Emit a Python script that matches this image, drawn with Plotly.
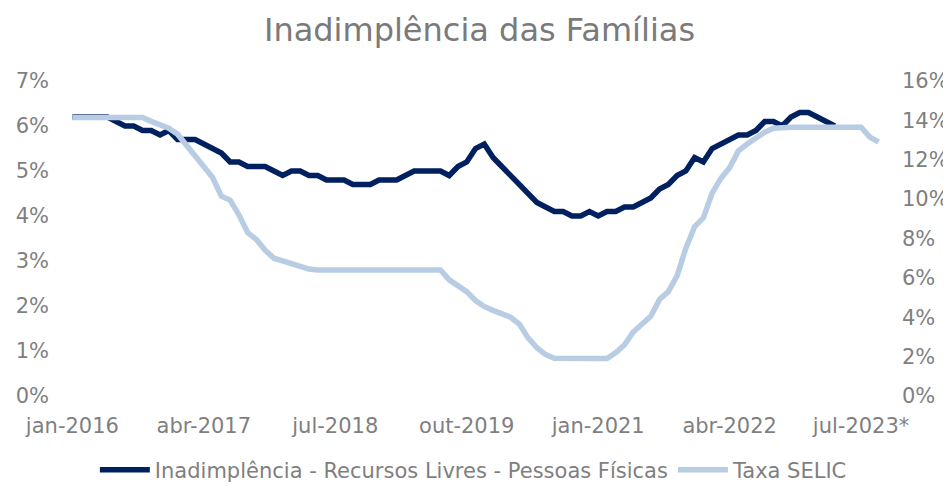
import plotly.graph_objects as go

MESES = ["jan", "fev", "mar", "abr", "mai", "jun", "jul", "ago", "set", "out", "nov", "dez"]
months = [f"{MESES[i % 12]}-{2016 + i // 12}" for i in range(93)]  # jan-2016 .. set-2023

tick_labels = ["jan-2016", "abr-2017", "jul-2018", "out-2019", "jan-2021", "abr-2022", "jul-2023"]
tick_text = ["jan-2016", "abr-2017", "jul-2018", "out-2019", "jan-2021", "abr-2022", "jul-2023*"]

inadimplencia = [
    6.2, 6.2, 6.2, 6.2, 6.2, 6.1, 6.0, 6.0, 5.9, 5.9, 5.8, 5.9,
    5.7, 5.7, 5.7, 5.6, 5.5, 5.4, 5.2, 5.2, 5.1, 5.1, 5.1, 5.0,
    4.9, 5.0, 5.0, 4.9, 4.9, 4.8, 4.8, 4.8, 4.7, 4.7, 4.7, 4.8,
    4.8, 4.8, 4.9, 5.0, 5.0, 5.0, 5.0, 4.9, 5.1, 5.2, 5.5, 5.6,
    5.3, 5.1, 4.9, 4.7, 4.5, 4.3, 4.2, 4.1, 4.1, 4.0, 4.0, 4.1,
    4.0, 4.1, 4.1, 4.2, 4.2, 4.3, 4.4, 4.6, 4.7, 4.9, 5.0, 5.3,
    5.2, 5.5, 5.6, 5.7, 5.8, 5.8, 5.9, 6.1, 6.1, 6.0, 6.2, 6.3,
    6.3, 6.2, 6.1, 6.0,
]

selic = [
    14.15, 14.15, 14.15, 14.15, 14.15, 14.15, 14.15, 14.15, 14.15, 13.95, 13.8, 13.6,
    13.3, 12.75, 12.15, 11.55, 11.1, 10.15, 9.95, 9.2, 8.3, 7.95, 7.4, 7.0,
    6.85, 6.7, 6.55, 6.45, 6.4, 6.4, 6.4, 6.4, 6.4, 6.4, 6.4, 6.4,
    6.4, 6.4, 6.4, 6.4, 6.4, 6.4, 6.4, 5.9, 5.6, 5.3, 4.85, 4.55,
    4.35, 4.15, 4.0, 3.65, 2.95, 2.45, 2.1, 1.92, 1.9, 1.9, 1.9, 1.9,
    1.9, 1.9, 2.2, 2.6, 3.25, 3.65, 4.05, 4.9, 5.3, 6.1, 7.5, 8.6,
    9.05, 10.3, 11.05, 11.6, 12.45, 12.8, 13.1, 13.4, 13.6, 13.65, 13.65, 13.65,
    13.65, 13.65, 13.65, 13.65, 13.65, 13.65, 13.65, 13.15, 12.9,
]

left_ticks = [0, 1, 2, 3, 4, 5, 6, 7]
right_ticks = [0, 2, 4, 6, 8, 10, 12, 14, 16]

FONT = "DejaVu Sans"
GREY = "#7F7F7F"
W, H = 943, 478  # page body has an 8px margin

fig = go.Figure()
fig.add_trace(go.Scatter(
    x=months[:len(inadimplencia)], y=inadimplencia, mode="lines",
    name="Inadimplência - Recursos Livres - Pessoas Físicas",
    line=dict(color="#002060", width=5.5), yaxis="y",
))
fig.add_trace(go.Scatter(
    x=months, y=selic, mode="lines", name="Taxa SELIC",
    line=dict(color="#B8CCE4", width=5.5), yaxis="y2",
))

fig.update_layout(
    width=W, height=H,
    margin=dict(l=60, r=68, t=73, b=90, autoexpand=False),
    paper_bgcolor="white", plot_bgcolor="white",
    font=dict(family=FONT, size=21, color=GREY),
    title=dict(text="Inadimplência das Famílias", x=0.5, xanchor="center",
               y=1 - 22 / H, yanchor="middle", yref="container",
               font=dict(family=FONT, size=32, color="#7A7A7A")),
    xaxis=dict(type="category", categoryorder="array", categoryarray=months,
               range=[-0.5, len(months) - 0.5], automargin=False,
               tickmode="array", tickvals=tick_labels, ticktext=tick_text,
               showgrid=False, zeroline=False, showline=False, ticks="",
               ticklabelstandoff=15, tickangle=0,
               tickfont=dict(family=FONT, size=21, color=GREY)),
    yaxis=dict(range=[0, 7], tickvals=left_ticks, automargin=False,
               ticktext=[f"{v}%" for v in left_ticks],
               showgrid=False, zeroline=False, showline=False, ticks="",
               ticklabelstandoff=18,
               tickfont=dict(family=FONT, size=21, color=GREY)),
    yaxis2=dict(range=[0, 16], tickvals=right_ticks, automargin=False,
                ticktext=[f"{v}%" for v in right_ticks],
                overlaying="y", side="right",
                showgrid=False, zeroline=False, showline=False, ticks="",
                ticklabelstandoff=18,
                tickfont=dict(family=FONT, size=21, color=GREY)),
    legend=dict(orientation="h", x=0.498, xanchor="center",
                y=1 - 462 / H, yanchor="middle", yref="container",
                font=dict(family=FONT, size=21, color=GREY),
                itemwidth=50, bgcolor="rgba(0,0,0,0)"),
    showlegend=True,
)

fig.write_html("out.html")
